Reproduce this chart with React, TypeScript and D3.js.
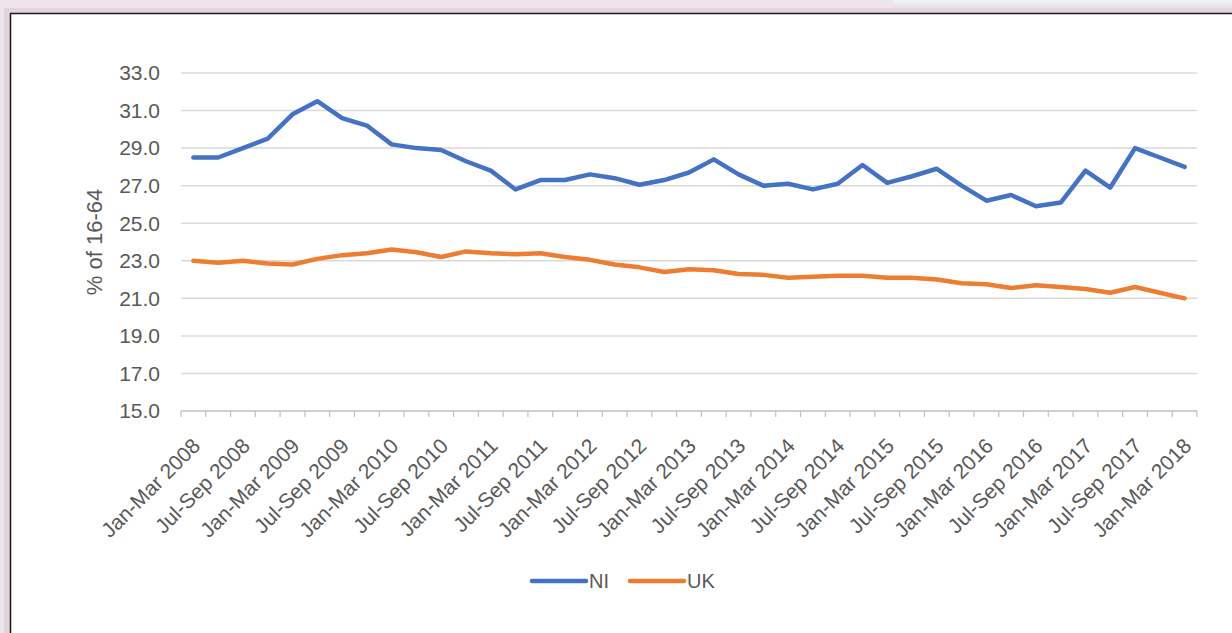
import React, { useEffect, useRef } from "react";
import * as d3 from "d3";

const quarterNames = ["Jan-Mar", "Apr-Jun", "Jul-Sep", "Oct-Dec"];
const years = [2008, 2009, 2010, 2011, 2012, 2013, 2014, 2015, 2016, 2017, 2018];
const quarters: string[] = years
  .flatMap((y) => quarterNames.map((q) => `${q} ${y}`))
  .slice(0, 41);

const niValues = [
  28.5, 28.5, 29.0, 29.5, 30.8, 31.5, 30.6, 30.2, 29.2, 29.0,
  28.9, 28.3, 27.8, 26.8, 27.3, 27.3, 27.6, 27.4, 27.05, 27.3,
  27.7, 28.4, 27.6, 27.0, 27.1, 26.8, 27.1, 28.1, 27.15, 27.5,
  27.9, 27.0, 26.2, 26.5, 25.9, 26.1, 27.8, 26.9, 29.0, 28.5,
  28.0,
];

const ukValues = [
  23.0, 22.9, 23.0, 22.85, 22.8, 23.1, 23.3, 23.4, 23.6, 23.45,
  23.2, 23.5, 23.4, 23.35, 23.4, 23.2, 23.05, 22.8, 22.65, 22.4,
  22.55, 22.5, 22.3, 22.25, 22.1, 22.15, 22.2, 22.2, 22.1, 22.1,
  22.0, 21.8, 21.75, 21.55, 21.7, 21.6, 21.5, 21.3, 21.6, 21.3,
  21.0,
];

const yTicks = [15, 17, 19, 21, 23, 25, 27, 29, 31, 33];

const series = [
  { name: "NI", values: niValues, color: "#4472C4" },
  { name: "UK", values: ukValues, color: "#ED7D31" },
];

const W = 1232;
const H = 633;
const plot = { left: 181, right: 1197, top: 73, bottom: 411 };
const font = "'Liberation Sans', Arial, sans-serif";
const textColor = "#595959";

const App: React.FC = () => {
  const svgRef = useRef<SVGSVGElement | null>(null);

  useEffect(() => {
    if (!svgRef.current) return;
    const svg = d3.select(svgRef.current);
    svg.selectAll("*").remove();

    // page background + card
    const defs = svg.append("defs");
    const gTop = defs.append("linearGradient").attr("id", "topgray").attr("x1", 0).attr("y1", 0).attr("x2", 0).attr("y2", 1);
    gTop.append("stop").attr("offset", "0%").attr("stop-color", "#f4f4f4");
    gTop.append("stop").attr("offset", "100%").attr("stop-color", "#d6d6d6");

    svg.append("rect").attr("width", W).attr("height", H).attr("fill", "#efe3ec");
    svg.append("rect").attr("x", 893).attr("y", 0).attr("width", W - 893).attr("height", 13).attr("fill", "url(#topgray)");
    svg.append("rect").attr("x", 4).attr("y", 8).attr("width", W).attr("height", H).attr("fill", "#e2d4de");
    svg.append("rect").attr("x", 10).attr("y", 13).attr("width", W).attr("height", H).attr("fill", "#ffffff");
    svg.append("line").attr("x1", 10).attr("x2", W).attr("y1", 13.5).attr("y2", 13.5).attr("stroke", "#1a1a1a").attr("stroke-width", 1.5);
    svg.append("line").attr("x1", 10.5).attr("x2", 10.5).attr("y1", 13).attr("y2", H).attr("stroke", "#1a1a1a").attr("stroke-width", 1.5);

    const x = d3.scalePoint<string>().domain(quarters).range([plot.left, plot.right]).padding(0.5);
    const y = d3.scaleLinear().domain([15, 33]).range([plot.bottom, plot.top]);
    const step = x.step();

    // gridlines
    svg
      .append("g")
      .selectAll("line")
      .data(yTicks.filter((t) => t !== 15))
      .enter()
      .append("line")
      .attr("x1", plot.left)
      .attr("x2", plot.right)
      .attr("y1", (d) => y(d))
      .attr("y2", (d) => y(d))
      .attr("stroke", "#d9d9d9")
      .attr("stroke-width", 1.5);

    // y labels
    svg
      .append("g")
      .selectAll("text")
      .data(yTicks)
      .enter()
      .append("text")
      .attr("x", 160)
      .attr("y", (d) => y(d))
      .attr("dy", "0.35em")
      .attr("text-anchor", "end")
      .attr("font-family", font)
      .attr("font-size", 21)
      .attr("fill", textColor)
      .text((d) => d3.format(".1f")(d));

    // y title
    svg
      .append("text")
      .attr("transform", `translate(94, ${(plot.top + plot.bottom) / 2}) rotate(-90)`)
      .attr("dy", "0.35em")
      .attr("text-anchor", "middle")
      .attr("font-family", font)
      .attr("font-size", 22)
      .attr("fill", textColor)
      .text("% of 16-64");

    // x axis line and ticks
    svg
      .append("line")
      .attr("x1", plot.left)
      .attr("x2", plot.right)
      .attr("y1", plot.bottom)
      .attr("y2", plot.bottom)
      .attr("stroke", "#bfbfbf")
      .attr("stroke-width", 1.5);
    svg
      .append("g")
      .selectAll("line")
      .data(d3.range(quarters.length + 1))
      .enter()
      .append("line")
      .attr("x1", (i) => plot.left + i * step)
      .attr("x2", (i) => plot.left + i * step)
      .attr("y1", plot.bottom)
      .attr("y2", plot.bottom + 6)
      .attr("stroke", "#bfbfbf")
      .attr("stroke-width", 1.2);

    // x labels
    svg
      .append("g")
      .selectAll("text")
      .data(quarters.filter((_, i) => i % 2 === 0))
      .enter()
      .append("text")
      .attr("transform", (d) => `translate(${(x(d) ?? 0) + 3}, 442) rotate(-45)`)
      .attr("dy", "0.35em")
      .attr("text-anchor", "end")
      .attr("font-family", font)
      .attr("font-size", 21)
      .attr("fill", textColor)
      .text((d) => d);

    // lines
    const line = d3
      .line<number>()
      .x((_, i) => x(quarters[i]) ?? 0)
      .y((d) => y(d));

    series.forEach((s) => {
      svg
        .append("path")
        .attr("d", line(s.values) ?? "")
        .attr("fill", "none")
        .attr("stroke", s.color)
        .attr("stroke-width", 4.5)
        .attr("stroke-linejoin", "round")
        .attr("stroke-linecap", "round");
    });

    // legend
    const legendX = [532, 630];
    series.forEach((s, i) => {
      const lx = legendX[i];
      svg
        .append("line")
        .attr("x1", lx)
        .attr("x2", lx + 54)
        .attr("y1", 581)
        .attr("y2", 581)
        .attr("stroke", s.color)
        .attr("stroke-width", 4.5)
        .attr("stroke-linecap", "round");
      svg
        .append("text")
        .attr("x", lx + 57)
        .attr("y", 581)
        .attr("dy", "0.35em")
        .attr("font-family", font)
        .attr("font-size", 20)
        .attr("fill", textColor)
        .text(s.name);
    });
  }, []);

  return (
    <>
      <style>{`body{margin:0}`}</style>
      <svg ref={svgRef} width={W} height={H} style={{ display: "block" }}></svg>
    </>
  );
};

export default App;
